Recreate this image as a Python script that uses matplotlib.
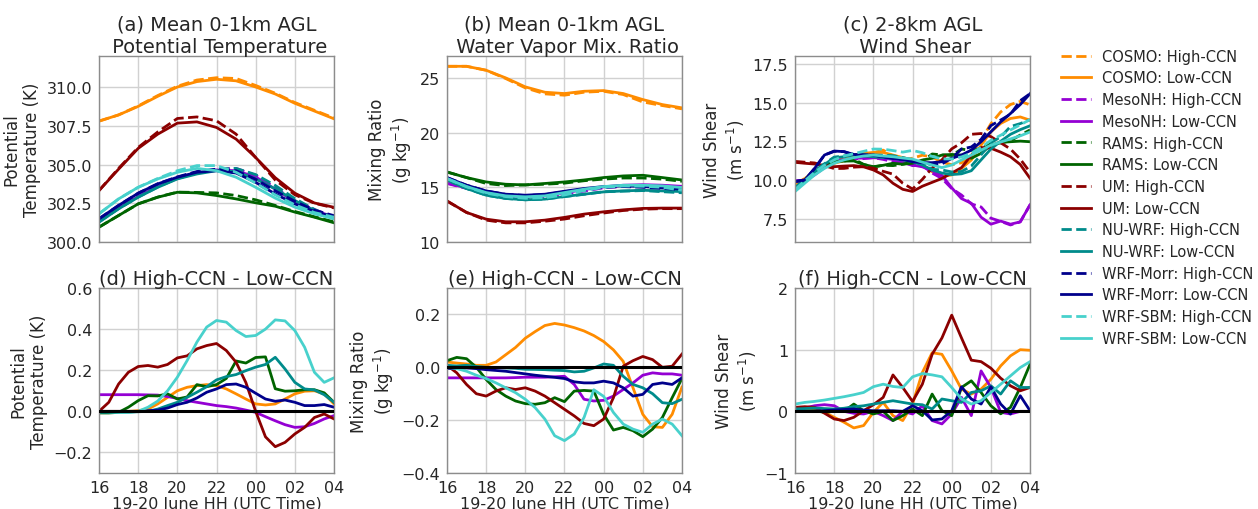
import numpy as np
import matplotlib
matplotlib.use('Agg')
import matplotlib.pyplot as plt

# ---------------- data ----------------
models = ['COSMO', 'MesoNH', 'RAMS', 'UM', 'NU-WRF', 'WRF-Morr', 'WRF-SBM']
colors = ['darkorange', 'darkviolet', 'darkgreen', 'darkred', 'darkcyan', 'darkblue', 'mediumturquoise']

hours = [16, 17, 18, 19, 20, 21, 22, 23, 24, 25, 26, 27, 28]
half_hours = [16, 16.5, 17, 17.5, 18, 18.5, 19, 19.5, 20, 20.5, 21, 21.5, 22, 22.5,
              23, 23.5, 24, 24.5, 25, 25.5, 26, 26.5, 27, 27.5, 28]
xtick_pos = [16, 18, 20, 22, 24, 26, 28]
xtick_labels = ['16', '18', '20', '22', '00', '02', '04']

# (a) potential temperature (K), hourly
theta_high = {
    'COSMO':    [307.8, 308.2, 308.78, 309.45, 310.05, 310.45, 310.6, 310.55, 310.1, 309.6, 309.0, 308.5, 308.0],
    'MesoNH':   [301.45, 302.25, 303.0, 303.65, 304.15, 304.5, 304.7, 304.75, 304.3, 303.5, 302.7, 302.1, 301.6],
    'RAMS':     [300.96, 301.71, 302.46, 302.9, 303.22, 303.2, 303.17, 303.0, 302.72, 302.36, 301.97, 301.63, 301.3],
    'UM':       [303.32, 304.75, 306.1, 307.1, 307.97, 308.07, 307.82, 306.96, 305.45, 304.0, 303.05, 302.5, 302.2],
    'NU-WRF':   [301.3, 302.15, 302.9, 303.55, 304.1, 304.45, 304.7, 304.75, 304.35, 303.65, 302.8, 302.1, 301.55],
    'WRF-Morr': [301.5, 302.36, 303.15, 303.76, 304.2, 304.55, 304.7, 304.6, 304.05, 303.3, 302.63, 302.05, 301.7],
    'WRF-SBM':  [301.82, 302.78, 303.53, 304.1, 304.6, 304.93, 304.93, 304.5, 303.8, 303.04, 302.4, 301.9, 301.6],
}
theta_low = {
    'COSMO':    [307.8, 308.2, 308.75, 309.4, 310.0, 310.35, 310.5, 310.4, 310.0, 309.55, 308.95, 308.45, 307.95],
    'MesoNH':   [301.37, 302.18, 302.93, 303.58, 304.1, 304.45, 304.65, 304.6, 304.2, 303.4, 302.6, 302.05, 301.6],
    'RAMS':     [300.96, 301.71, 302.46, 302.89, 303.21, 303.17, 303.0, 302.78, 302.53, 302.31, 301.93, 301.6, 301.24],
    'UM':       [303.32, 304.7, 306.04, 306.96, 307.67, 307.75, 307.39, 306.64, 305.45, 304.15, 303.15, 302.52, 302.24],
    'NU-WRF':   [301.28, 302.14, 302.89, 303.53, 304.07, 304.39, 304.6, 304.54, 304.07, 303.43, 302.68, 302.03, 301.5],
    'WRF-Morr': [301.5, 302.36, 303.15, 303.75, 304.18, 304.5, 304.6, 304.45, 303.85, 303.1, 302.46, 301.97, 301.6],
    'WRF-SBM':  [301.82, 302.78, 303.53, 304.07, 304.5, 304.75, 304.6, 304.18, 303.53, 302.83, 302.25, 301.82, 301.5],
}

# (b) water vapour mixing ratio (g/kg), hourly
qv_high = {
    'COSMO':    [26.06, 26.06, 25.7, 24.94, 24.09, 23.54, 23.42, 23.69, 23.78, 23.48, 22.8, 22.47, 22.17],
    'MesoNH':   [15.35, 14.9, 14.5, 14.2, 14.05, 14.1, 14.35, 14.65, 14.95, 15.1, 15.15, 15.1, 15.0],
    'RAMS':     [16.4, 15.89, 15.35, 15.16, 15.22, 15.28, 15.38, 15.6, 15.75, 15.85, 15.85, 15.75, 15.55],
    'UM':       [13.74, 12.7, 12.0, 11.75, 11.75, 11.9, 12.1, 12.4, 12.65, 12.88, 13.0, 13.05, 13.05],
    'NU-WRF':   [15.68, 14.89, 14.28, 13.98, 13.86, 13.92, 14.15, 14.36, 14.6, 14.65, 14.7, 14.6, 14.5],
    'WRF-Morr': [15.89, 15.19, 14.66, 14.35, 14.25, 14.33, 14.6, 14.83, 15.0, 15.07, 15.0, 14.9, 14.78],
    'WRF-SBM':  [15.8, 15.05, 14.47, 14.15, 14.0, 14.05, 14.3, 14.7, 15.0, 15.12, 15.1, 15.0, 14.73],
}
qv_low = {
    'COSMO':    [26.06, 26.06, 25.7, 25.0, 24.18, 23.69, 23.57, 23.78, 23.84, 23.57, 23.02, 22.56, 22.26],
    'MesoNH':   [15.39, 14.94, 14.54, 14.24, 14.14, 14.24, 14.49, 14.79, 15.04, 15.19, 15.24, 15.19, 15.09],
    'RAMS':     [16.4, 15.89, 15.49, 15.28, 15.22, 15.35, 15.49, 15.67, 15.89, 16.04, 16.1, 15.89, 15.67],
    'UM':       [13.76, 12.7, 12.09, 11.85, 11.85, 12.0, 12.25, 12.55, 12.76, 12.94, 13.07, 13.1, 13.1],
    'NU-WRF':   [15.68, 14.89, 14.28, 13.98, 13.86, 13.92, 14.16, 14.37, 14.58, 14.67, 14.73, 14.67, 14.61],
    'WRF-Morr': [15.89, 15.19, 14.67, 14.37, 14.28, 14.37, 14.64, 14.89, 15.07, 15.13, 15.07, 14.95, 14.83],
    'WRF-SBM':  [15.8, 15.07, 14.52, 14.22, 14.13, 14.22, 14.52, 14.83, 15.07, 15.19, 15.19, 15.13, 14.98],
}

# (c) 2-8 km wind shear (m/s), half-hourly
shear_high = {
    'COSMO':    [9.7, 10.1, 10.55, 10.9, 11.08, 11.24, 11.34, 11.49, 11.76, 11.93, 11.54, 11.3, 11.41, 11.6, 11.49,
                 11.15, 10.99, 11.11, 11.57, 12.58, 13.63, 14.39, 14.87, 15.07, 14.85],
    'MesoNH':   [9.94, 10.0, 10.42, 10.9, 11.27, 11.3, 11.37, 11.38, 11.44, 11.33, 11.18, 11.15, 10.93, 10.94, 10.45,
                 10.1, 9.45, 9.03, 8.46, 8.26, 7.54, 7.33, 7.1, 7.3, 8.4],
    'RAMS':     [9.36, 10.0, 10.54, 10.97, 11.18, 11.22, 11.35, 11.01, 10.84, 10.95, 10.93, 11.02, 11.15, 11.2, 11.68,
                 11.62, 11.58, 12.0, 11.9, 12.03, 12.34, 12.39, 12.53, 12.9, 13.23],
    'UM':       [11.2, 11.15, 11.1, 10.92, 10.74, 10.75, 10.83, 10.86, 10.76, 10.56, 10.38, 9.79, 9.42, 10.04, 10.78,
                 11.3, 12.01, 12.4, 12.95, 13.0, 12.8, 12.4, 12.0, 11.35, 10.5],
    'NU-WRF':   [9.51, 10.05, 10.6, 11.05, 11.48, 11.55, 11.69, 11.63, 11.62, 11.6, 11.57, 11.45, 11.3, 11.08, 10.69,
                 10.65, 10.52, 10.55, 10.9, 11.63, 12.41, 12.78, 13.45, 13.64, 13.89],
    'WRF-Morr': [9.9, 10.0, 10.75, 11.61, 11.85, 11.83, 11.62, 11.6, 11.6, 11.5, 11.4, 11.33, 11.27, 11.12, 10.99,
                 11.04, 11.4, 12.0, 12.13, 12.62, 13.51, 13.87, 14.24, 15.12, 15.57],
    'WRF-SBM':  [9.38, 9.95, 10.5, 10.95, 11.3, 11.55, 11.7, 11.85, 12.0, 11.99, 11.9, 11.8, 11.91, 11.76, 11.52,
                 11.36, 11.36, 11.49, 11.73, 12.1, 12.56, 12.89, 13.23, 13.56, 13.9],
}
shear_low = {
    'COSMO':    [9.68, 10.1, 10.54, 10.9, 11.18, 11.42, 11.61, 11.72, 11.78, 11.78, 11.61, 11.45, 11.29, 10.97, 10.54,
                 10.22, 10.33, 10.75, 11.29, 12.25, 13.11, 13.65, 13.97, 14.07, 13.86],
    'MesoNH':   [9.94, 9.95, 10.33, 10.8, 11.18, 11.3, 11.4, 11.42, 11.44, 11.4, 11.33, 11.15, 10.97, 10.85, 10.6,
                 10.3, 9.5, 8.8, 8.5, 7.6, 7.15, 7.35, 7.15, 7.3, 8.4],
    'RAMS':     [9.36, 10.0, 10.54, 10.97, 11.18, 11.22, 11.23, 11.0, 10.86, 10.95, 11.08, 11.02, 11.08, 11.29, 11.4,
                 11.61, 11.65, 11.61, 11.4, 11.72, 12.25, 12.43, 12.47, 12.51, 12.47],
    'UM':       [11.14, 11.08, 11.03, 10.95, 10.86, 10.9, 10.93, 10.85, 10.65, 10.33, 9.79, 9.4, 9.26, 9.6, 9.85,
                 10.1, 10.45, 10.8, 11.6, 12.1, 12.05, 11.8, 11.5, 11.0, 10.11],
    'NU-WRF':   [9.47, 10.0, 10.54, 11.0, 11.44, 11.5, 11.61, 11.55, 11.5, 11.45, 11.4, 11.3, 11.18, 10.97, 10.65,
                 10.45, 10.35, 10.4, 10.6, 11.3, 12.0, 12.5, 12.95, 13.25, 13.5],
    'WRF-Morr': [9.9, 10.0, 10.75, 11.61, 11.87, 11.83, 11.65, 11.63, 11.61, 11.5, 11.4, 11.33, 11.18, 11.12, 11.12,
                 11.18, 11.4, 11.61, 11.93, 12.47, 13.11, 13.75, 14.29, 14.87, 15.57],
    'WRF-SBM':  [9.26, 9.8, 10.33, 10.75, 11.08, 11.3, 11.44, 11.55, 11.61, 11.55, 11.5, 11.42, 11.35, 11.15, 10.97,
                 10.8, 10.97, 11.29, 11.61, 11.93, 12.25, 12.45, 12.65, 12.85, 13.1],
}

# (d) theta difference High-CCN - Low-CCN (K), half-hourly
theta_diff = {
    'COSMO':    [0.0, 0.0, 0.0, 0.0, 0.003, 0.011, 0.036, 0.068, 0.1, 0.117, 0.125, 0.13, 0.125, 0.109, 0.085,
                 0.06, 0.036, 0.031, 0.036, 0.06, 0.085, 0.098, 0.1, 0.085, 0.036],
    'MesoNH':   [0.081, 0.081, 0.081, 0.081, 0.081, 0.08, 0.079, 0.072, 0.063, 0.052, 0.044, 0.036, 0.028, 0.023, 0.016,
                 0.006, -0.005, -0.026, -0.046, -0.065, -0.078, -0.075, -0.059, -0.037, -0.021],
    'RAMS':     [-0.008, -0.008, -0.005, 0.02, 0.052, 0.076, 0.075, 0.085, 0.06, 0.07, 0.13, 0.12, 0.13, 0.16, 0.245,
                 0.235, 0.262, 0.265, 0.11, 0.098, 0.1, 0.105, 0.105, 0.09, 0.044],
    'UM':       [0.0, 0.044, 0.133, 0.19, 0.218, 0.223, 0.215, 0.228, 0.26, 0.27, 0.304, 0.32, 0.33, 0.296, 0.239,
                 0.14, 0.0, -0.124, -0.172, -0.151, -0.11, -0.078, -0.03, -0.013, -0.037],
    'NU-WRF':   [-0.005, -0.005, -0.005, -0.004, -0.002, 0.0, 0.011, 0.028, 0.044, 0.068, 0.093, 0.12, 0.153, 0.169, 0.179,
                 0.198, 0.215, 0.228, 0.263, 0.206, 0.141, 0.109, 0.104, 0.081, 0.044],
    'WRF-Morr': [0.0, 0.0, 0.0, 0.0, 0.0, 0.003, 0.006, 0.016, 0.033, 0.044, 0.065, 0.093, 0.109, 0.13, 0.133,
                 0.117, 0.088, 0.06, 0.049, 0.055, 0.044, 0.028, 0.028, 0.033, 0.02],
    'WRF-SBM':  [0.0, -0.002, -0.005, -0.005, 0.0, 0.02, 0.05, 0.1, 0.166, 0.247, 0.337, 0.41, 0.442, 0.434, 0.393,
                 0.364, 0.369, 0.4, 0.445, 0.44, 0.393, 0.312, 0.19, 0.141, 0.163],
}

# (e) mixing ratio difference (g/kg), half-hourly
qv_diff = {
    'COSMO':    [0.02, 0.016, 0.0125, 0.0075, 0.0075, 0.02, 0.0475, 0.075, 0.11, 0.135, 0.158, 0.166, 0.16, 0.15, 0.1375,
                 0.12, 0.0975, 0.066, 0.0225, -0.0775, -0.178, -0.225, -0.2275, -0.178, -0.075],
    'MesoNH':   [-0.04, -0.04, -0.04, -0.04, -0.04, -0.04, -0.04, -0.039, -0.0375, -0.0375, -0.0375, -0.036, -0.034, -0.065, -0.121,
                 -0.1275, -0.125, -0.109, -0.084, -0.059, -0.03, -0.021, -0.025, -0.025, -0.03],
    'RAMS':     [0.025, 0.0375, 0.0325, 0.0, -0.046, -0.084, -0.109, -0.1275, -0.1375, -0.14, -0.134, -0.115, -0.13, -0.09, -0.0875,
                 -0.09, -0.178, -0.2375, -0.2275, -0.24, -0.2625, -0.234, -0.19, -0.115, -0.0425],
    'UM':       [0.0075, -0.021, -0.065, -0.1, -0.109, -0.09, -0.0775, -0.084, -0.0775, -0.09, -0.109, -0.134, -0.159, -0.184, -0.2125,
                 -0.221, -0.196, -0.115, 0.004, 0.025, 0.041, 0.029, 0.0, 0.004, 0.05],
    'NU-WRF':   [0.0075, 0.005, 0.0075, 0.003, 0.0, -0.001, -0.0025, -0.004, -0.0075, -0.008, -0.009, -0.011, -0.0125, -0.0175, -0.015,
                 -0.0025, 0.0125, 0.0075, -0.034, -0.065, -0.0775, -0.1, -0.134, -0.1375, -0.121],
    'WRF-Morr': [-0.004, -0.005, -0.0025, -0.005, -0.009, -0.012, -0.015, -0.02, -0.025, -0.03, -0.034, -0.038, -0.0425, -0.055, -0.059,
                 -0.059, -0.0525, -0.059, -0.0775, -0.109, -0.1025, -0.065, -0.059, -0.065, -0.04],
    'WRF-SBM':  [0.0, -0.005, -0.015, -0.03, -0.0425, -0.059, -0.0775, -0.096, -0.121, -0.1525, -0.196, -0.259, -0.2775, -0.2525, -0.19,
                 -0.085, -0.11, -0.171, -0.215, -0.234, -0.246, -0.215, -0.196, -0.215, -0.259],
}

# (f) wind shear difference (m/s), half-hourly
shear_diff = {
    'COSMO':    [0.0, 0.022, 0.038, -0.016, -0.097, -0.177, -0.269, -0.231, -0.016, 0.145, -0.07, -0.15, 0.118, 0.63, 0.95,
                 0.925, 0.656, 0.36, 0.28, 0.36, 0.52, 0.737, 0.9, 1.0, 0.99],
    'MesoNH':   [0.0, 0.054, 0.091, 0.108, 0.091, 0.0, -0.032, -0.043, 0.0, -0.07, -0.15, 0.0, -0.043, 0.091, -0.15,
                 -0.204, -0.043, 0.226, -0.07, 0.656, 0.387, -0.016, -0.043, 0.0, 0.0],
    'RAMS':     [0.0, 0.0, 0.01, -0.016, 0.0, 0.0, 0.118, 0.01, -0.043, 0.0, -0.15, -0.07, 0.038, -0.07, 0.28,
                 0.01, -0.07, 0.387, 0.495, 0.306, 0.09, -0.04, 0.065, 0.387, 0.763],
    'UM':       [0.065, 0.075, 0.065, -0.03, -0.124, -0.15, -0.097, 0.01, 0.107, 0.226, 0.59, 0.387, 0.16, 0.44, 0.925,
                 1.19, 1.56, 1.19, 0.83, 0.806, 0.7, 0.538, 0.414, 0.333, 0.387],
    'NU-WRF':   [0.038, 0.045, 0.054, 0.045, 0.038, 0.05, 0.075, 0.09, 0.118, 0.145, 0.172, 0.145, 0.118, 0.107, 0.038,
                 0.2, 0.172, 0.145, 0.306, 0.333, 0.414, 0.28, 0.495, 0.387, 0.387],
    'WRF-Morr': [0.0, 0.0, 0.0, 0.01, 0.022, 0.03, 0.038, 0.02, 0.01, 0.01, 0.01, 0.0, 0.09, 0.01, -0.14,
                 -0.124, 0.01, 0.398, 0.2, 0.118, 0.398, 0.118, -0.043, 0.253, 0.01],
    'WRF-SBM':  [0.118, 0.145, 0.161, 0.183, 0.21, 0.237, 0.269, 0.306, 0.4, 0.44, 0.403, 0.387, 0.56, 0.613, 0.591,
                 0.56, 0.387, 0.2, 0.118, 0.172, 0.306, 0.44, 0.575, 0.71, 0.806],
}

titles = ['(a) Mean 0-1km AGL\n Potential Temperature',
          '(b) Mean 0-1km AGL\n Water Vapor Mix. Ratio',
          '(c) 2-8km AGL\n Wind Shear',
          '(d) High-CCN - Low-CCN',
          '(e) High-CCN - Low-CCN',
          '(f) High-CCN - Low-CCN']
ylabels = ['Potential\nTemperature (K)', 'Mixing Ratio\n(g kg$^{-1}$)', 'Wind Shear\n(m s$^{-1}$)']
xlabel = '19-20 June HH (UTC Time)'

# ---------------- style ----------------
plt.rcParams.update({
    'font.family': 'DejaVu Sans',
    'text.color': '0.15',
    'axes.labelcolor': '0.15',
    'xtick.color': '0.15',
    'ytick.color': '0.15',
    'axes.edgecolor': '0.55',
    'axes.linewidth': 1.0,
    'grid.color': '0.82',
    'grid.linewidth': 1.0,
})

fig = plt.figure(figsize=(12.58, 5.10), dpi=100)

lefts = [0.0787, 0.3553, 0.632]
w = 0.1868
top_rect_b, top_h = 0.5235, 0.3647
bot_rect_b, bot_h = 0.0706, 0.3627

axes_top = [fig.add_axes([l, top_rect_b, w, top_h]) for l in lefts]
axes_bot = [fig.add_axes([l, bot_rect_b, w, bot_h]) for l in lefts]

top_sets = [(hours, theta_high, theta_low), (hours, qv_high, qv_low), (half_hours, shear_high, shear_low)]
bot_sets = [theta_diff, qv_diff, shear_diff]
top_ylims = [(300, 312), (10, 27), (6, 18)]
top_yticks = [[300.0, 302.5, 305.0, 307.5, 310.0], [10, 15, 20, 25], [7.5, 10.0, 12.5, 15.0, 17.5]]
top_ytick_labels = [['300.0', '302.5', '305.0', '307.5', '310.0'], ['10', '15', '20', '25'],
                    ['7.5', '10.0', '12.5', '15.0', '17.5']]
bot_ylims = [(-0.3, 0.6), (-0.4, 0.3), (-1, 2)]
bot_yticks = [[-0.2, 0.0, 0.2, 0.4, 0.6], [-0.4, -0.2, 0.0, 0.2], [-1, 0, 1, 2]]
bot_ytick_labels = [['\u22120.2', '0.0', '0.2', '0.4', '0.6'], ['\u22120.4', '\u22120.2', '0.0', '0.2'],
                    ['\u22121', '0', '1', '2']]

lw = 2.0
handles = []
for i, ax in enumerate(axes_top):
    t, hi, lo = top_sets[i]
    for m, c in zip(models, colors):
        h1, = ax.plot(t, hi[m], color=c, ls='--', lw=lw, label=f'{m}: High-CCN')
        h2, = ax.plot(t, lo[m], color=c, ls='-', lw=lw, label=f'{m}: Low-CCN')
        if i == 0:
            handles += [h1, h2]
    ax.set_ylim(*top_ylims[i])
    ax.set_yticks(top_yticks[i])
    ax.set_yticklabels(top_ytick_labels[i])
    ax.set_title(titles[i], fontsize=14, pad=3)
    ax.set_ylabel(ylabels[i], fontsize=12)
    ax.tick_params(labelbottom=False)

for i, ax in enumerate(axes_bot):
    d = bot_sets[i]
    for m, c in zip(models, colors):
        ax.plot(half_hours, d[m], color=c, ls='-', lw=lw)
    ax.axhline(0, color='black', lw=2.2, zorder=5)
    ax.set_ylim(*bot_ylims[i])
    ax.set_yticks(bot_yticks[i])
    ax.set_yticklabels(bot_ytick_labels[i])
    ax.set_title(titles[3 + i], fontsize=14, pad=2)
    ax.set_ylabel(ylabels[i], fontsize=12)
    ax.set_xlabel(xlabel, fontsize=11.5, labelpad=1)

for ax in axes_top + axes_bot:
    ax.set_xlim(16, 28)
    ax.set_xticks(xtick_pos)
    ax.set_xticklabels(xtick_labels)
    ax.grid(True)
    ax.set_axisbelow(True)
    ax.tick_params(length=0, labelsize=11.5, pad=5)
    ax.set_facecolor('white')

fig.legend(handles=handles, loc='upper left', bbox_to_anchor=(0.8386, 0.914),
           frameon=False, fontsize=10.5, labelspacing=0.46, handlelength=2.1,
           handletextpad=0.75, borderaxespad=0.0)

fig.savefig('out.png', dpi=100)
